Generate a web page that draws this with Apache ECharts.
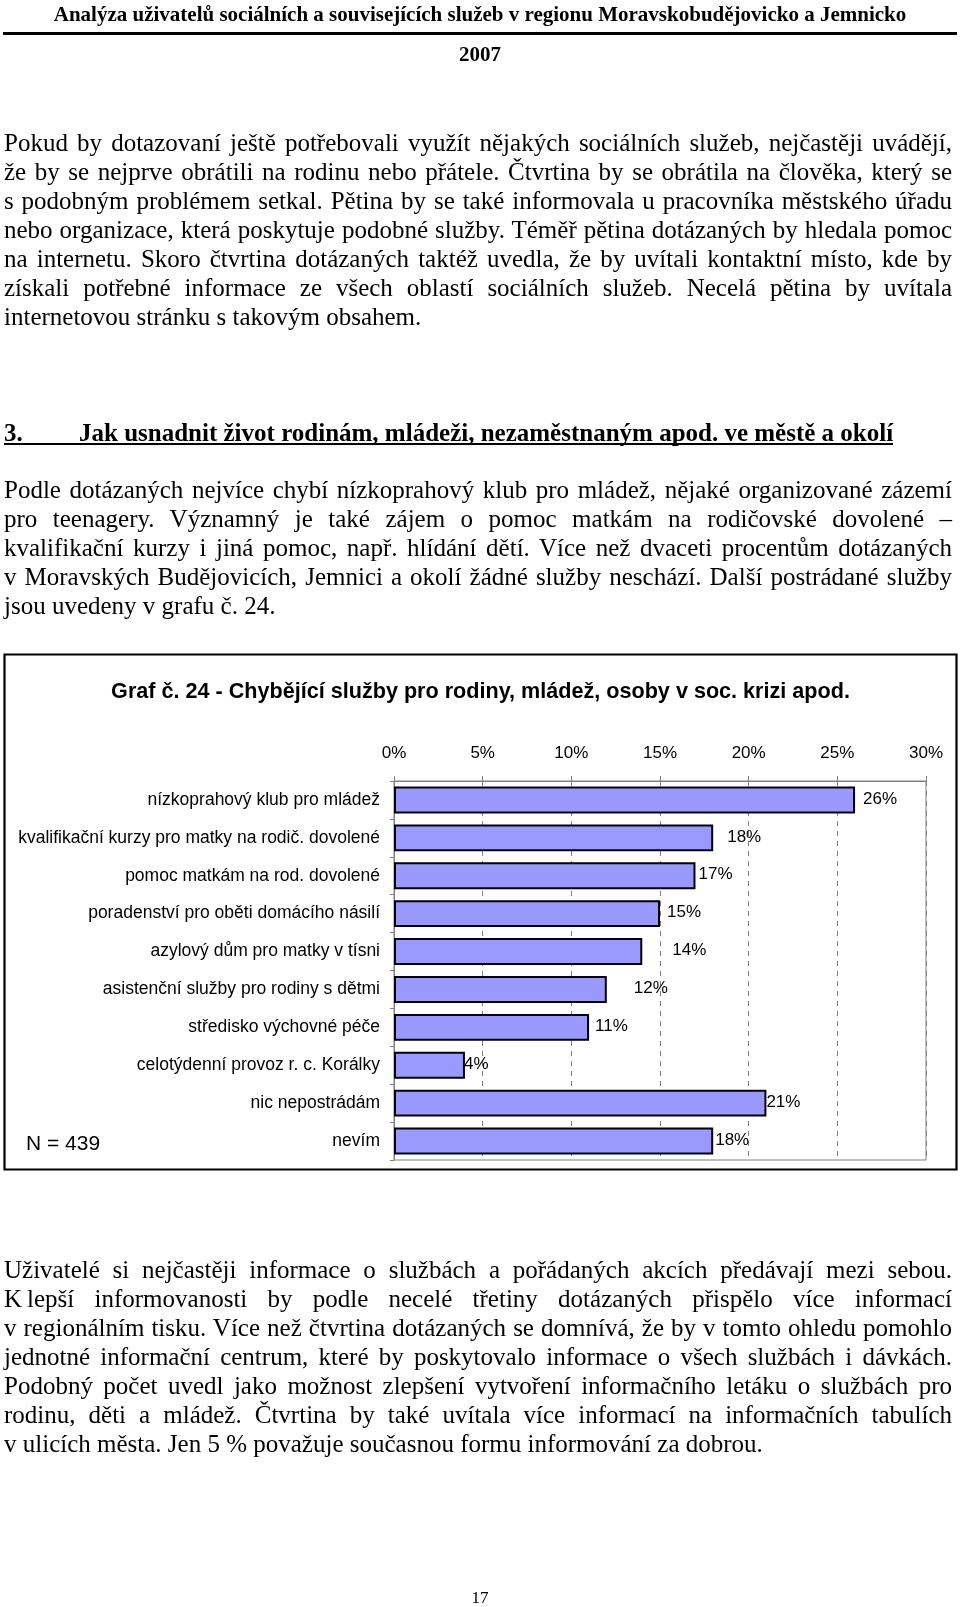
<!DOCTYPE html>
<html><head><meta charset="utf-8">
<script src="https://cdn.jsdelivr.net/npm/echarts/dist/echarts.min.js"></script>
<style>
html,body{margin:0;padding:0;background:#fff;}
#page{position:relative;width:960px;height:1607px;overflow:hidden;background:#fff;}
#chart{position:absolute;left:0;top:0;width:960px;height:1607px;}
.ln{position:absolute;left:4px;height:29px;line-height:29px;font-family:"Liberation Serif","Times New Roman",serif;font-size:25px;color:#000;white-space:nowrap;z-index:2;}
.ctr{left:0;width:960px;text-align:center;font-weight:bold;}
.rule{position:absolute;background:#000;z-index:2;}
</style></head>
<body><div id="page"><div id="chart"></div></div>
<script>
// ---- chart data ----
const categories = [
  'nízkoprahový klub pro mládež',
  'kvalifikační kurzy pro matky na rodič. dovolené',
  'pomoc matkám na rod. dovolené',
  'poradenství pro oběti domácího násilí',
  'azylový dům pro matky v tísni',
  'asistenční služby pro rodiny s dětmi',
  'středisko výchovné péče',
  'celotýdenní provoz r. c. Korálky',
  'nic nepostrádám',
  'nevím'
];
const values = [26, 18, 17, 15, 14, 12, 11, 4, 21, 18];
const axisMin = 0, axisMax = 30, axisStep = 5;
const chartTitle = 'Graf č. 24 - Chybějící služby pro rodiny, mládež, osoby v soc. krizi apod.';
const sampleNote = 'N = 439';

// ---- document text ----
const headerTitle = 'Analýza uživatelů sociálních a souvisejících služeb v regionu Moravskobudějovicko a Jemnicko';
const headerYear = '2007';
const para1 = [
  'Pokud by dotazovaní ještě potřebovali využít nějakých sociálních služeb, nejčastěji uvádějí,',
  'že by se nejprve obrátili na rodinu nebo přátele. Čtvrtina by se obrátila na člověka, který se',
  's podobným problémem setkal. Pětina by se také informovala u pracovníka městského úřadu',
  'nebo organizace, která poskytuje podobné služby. Téměř pětina dotázaných by hledala pomoc',
  'na internetu. Skoro čtvrtina dotázaných taktéž uvedla, že by uvítali kontaktní místo, kde by',
  'získali potřebné informace ze všech oblastí sociálních služeb. Necelá pětina by uvítala',
  'internetovou stránku s takovým obsahem.'
];
const headingNum = '3.';
const headingText = 'Jak usnadnit život rodinám, mládeži, nezaměstnaným apod. ve městě a okolí';
const para2 = [
  'Podle dotázaných nejvíce chybí nízkoprahový klub pro mládež, nějaké organizované zázemí',
  'pro teenagery. Významný je také zájem o pomoc matkám na rodičovské dovolené –',
  'kvalifikační kurzy i jiná pomoc, např. hlídání dětí. Více než dvaceti procentům dotázaných',
  'v Moravských Budějovicích, Jemnici a okolí žádné služby neschází. Další postrádané služby',
  'jsou uvedeny v grafu č. 24.'
];
const para3 = [
  'Uživatelé si nejčastěji informace o službách a pořádaných akcích předávají mezi sebou.',
  'K\u2009lepší informovanosti by podle necelé třetiny dotázaných přispělo více informací',
  'v regionálním tisku. Více než čtvrtina dotázaných se domnívá, že by v tomto ohledu pomohlo',
  'jednotné informační centrum, které by poskytovalo informace o všech službách i dávkách.',
  'Podobný počet uvedl jako možnost zlepšení vytvoření informačního letáku o službách pro',
  'rodinu, děti a mládež. Čtvrtina by také uvítala více informací na informačních tabulích',
  'v ulicích města. Jen 5 % považuje současnou formu informování za dobrou.'
];
const pageNumber = '17';

// ---- layout helpers ----
const page = document.getElementById('page');
const LINE = 29.03, TEXTW = 948;
function addLine(text, top, justify) {
  const d = document.createElement('div');
  d.className = 'ln';
  d.style.top = top + 'px';
  const s = document.createElement('span');
  s.textContent = text;
  d.appendChild(s);
  page.appendChild(d);
  if (justify) {
    const w = s.getBoundingClientRect().width;
    const n = (text.match(/ /g) || []).length;
    if (n > 0) d.style.wordSpacing = ((TEXTW - w) / n) + 'px';
  }
  return d;
}
function addPara(lines, firstTop) {
  lines.forEach((t, i) => addLine(t, firstTop + i * LINE, i < lines.length - 1));
}
// header
let h = addLine(headerTitle, 0, false); h.classList.add('ctr'); h.style.fontSize = '21px';
let r = document.createElement('div'); r.className = 'rule';
Object.assign(r.style, {left: '3px', width: '954px', top: '32px', height: '2.5px'}); page.appendChild(r);
h = addLine(headerYear, 40, false); h.classList.add('ctr'); h.style.fontSize = '21px';
// paragraphs
addPara(para1, 127.5);
let hn = addLine(headingNum, 417.5, false); hn.style.fontWeight = 'bold';
let ht = addLine(headingText, 417.5, false); ht.style.fontWeight = 'bold'; ht.style.left = '79px';
r = document.createElement('div'); r.className = 'rule';
Object.assign(r.style, {left: '4px', width: (ht.firstChild.getBoundingClientRect().right - 4) + 'px', top: '443px', height: '2px'}); page.appendChild(r);
addPara(para2, 475);
addPara(para3, 1254.5);
let pn = addLine(pageNumber, 1583, false); pn.classList.add('ctr'); pn.style.fontWeight = 'normal'; pn.style.fontSize = '17px';

// ---- chart ----
const labelDx = [8, 14, 3, 7, 30, 27, 6, -1, 0, 2];
const chart = echarts.init(document.getElementById('chart'), null, {renderer: 'canvas'});
const sansFont = 'Liberation Sans, Arial, sans-serif';
chart.setOption({
  backgroundColor: '#ffffff',
  animation: false,
  grid: {left: 394, top: 781, width: 532, height: 379, show: true, borderColor: '#808080', borderWidth: 1, containLabel: false},
  xAxis: {
    type: 'value', position: 'top', min: axisMin, max: axisMax, interval: axisStep,
    axisLine: {show: true, lineStyle: {color: '#808080', width: 1}},
    axisTick: {show: true, length: 5, lineStyle: {color: '#808080'}},
    axisLabel: {formatter: '{value}%', color: '#000', fontSize: 17, fontFamily: sansFont, margin: 19},
    splitLine: {show: true, lineStyle: {color: '#808080', type: [5, 5], width: 1}}
  },
  yAxis: {
    type: 'category', inverse: true, data: categories,
    axisLine: {show: true, lineStyle: {color: '#808080', width: 1}},
    axisTick: {show: true, length: 4, alignWithLabel: false, lineStyle: {color: '#808080'}},
    axisLabel: {color: '#000', fontSize: 17.5, fontFamily: sansFont, margin: 14}
  },
  series: [{
    type: 'bar',
    barCategoryGap: '29%',
    data: values.map((v, i) => ({value: v, label: {offset: [labelDx[i], -1]}})),
    itemStyle: {color: '#9999FF', borderColor: '#000000', borderWidth: 2},
    label: {show: true, position: 'right', distance: 0, formatter: '{c}%', color: '#000', fontSize: 17, fontFamily: sansFont}
  }],
  graphic: [
    {type: 'rect', shape: {x: 4.5, y: 654.5, width: 952, height: 515}, style: {fill: 'none', stroke: '#000', lineWidth: 2.2}, silent: true},
    {type: 'text', x: 480.5, y: 691.6, style: {text: chartTitle, fill: '#000', font: 'bold 21.6px ' + sansFont, textAlign: 'center', textVerticalAlign: 'middle'}},
    {type: 'text', x: 26, y: 1144.5, style: {text: sampleNote, fill: '#000', font: '21px ' + sansFont, textAlign: 'left', textVerticalAlign: 'middle'}}
  ]
});
</script>
</body></html>
